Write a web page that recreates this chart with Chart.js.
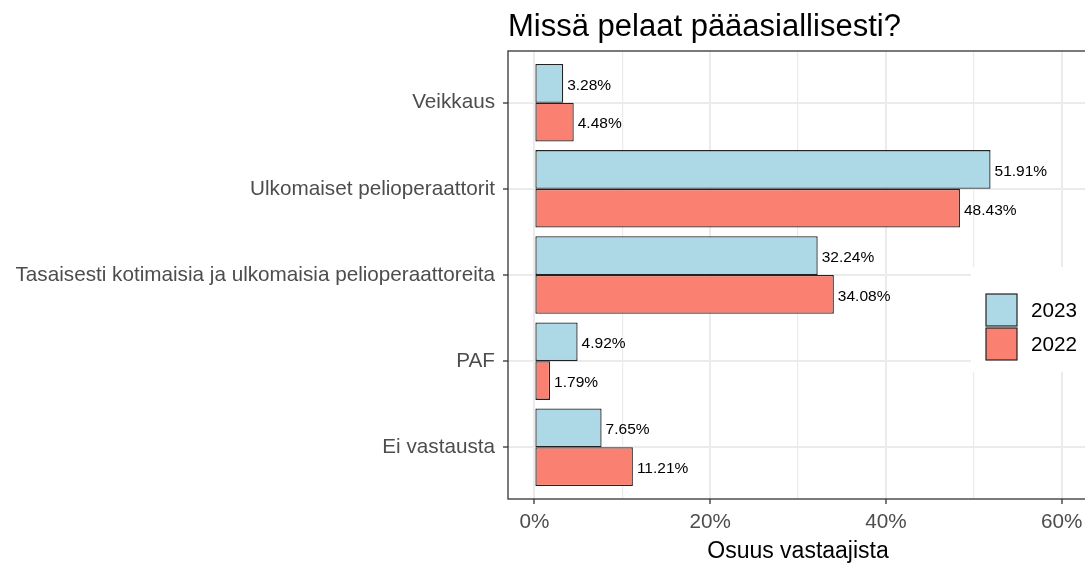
<!DOCTYPE html>
<html>
<head>
<meta charset="utf-8">
<script src="https://cdn.jsdelivr.net/npm/chart.js@4"></script>
<style>
  html, body { margin: 0; padding: 0; background: #fff; overflow: hidden; }
  canvas { display: block; }
</style>
</head>
<body>
<canvas id="chart" width="1092" height="563"></canvas>
<script>
var categories = ['Veikkaus', 'Ulkomaiset pelioperaattorit', 'Tasaisesti kotimaisia ja ulkomaisia pelioperaattoreita', 'PAF', 'Ei vastausta'];
var years = ['2023', '2022'];
var values2023 = [3.28, 51.91, 32.24, 4.92, 7.65];
var values2022 = [4.48, 48.43, 34.08, 1.79, 11.21];
var xTicks = [0, 10, 20, 30, 40, 50, 60];

var colors = ['#ADD8E6', '#FA8072'];
var FONT = '"Liberation Sans", Arial, sans-serif';

function toPoints(vals) {
    return vals.map(function (v, i) { return { x: v, y: i + 1 }; });
}

var panelPlugin = {
    id: 'panel',
    afterDatasetsDraw: function (chart) {
        var ctx = chart.ctx;
        ctx.save();
        ctx.font = '15.5px ' + FONT;
        ctx.fillStyle = '#000';
        ctx.textAlign = 'left';
        ctx.textBaseline = 'middle';
        chart.data.datasets.forEach(function (ds, di) {
            chart.getDatasetMeta(di).data.forEach(function (bar, i) {
                ctx.fillText(ds.data[i].x.toFixed(2) + '%', bar.x + 4, bar.y + 2);
            });
        });
        ctx.restore();
    },
    afterDraw: function (chart) {
        var ctx = chart.ctx, a = chart.chartArea;
        ctx.save();
        // panel border
        ctx.strokeStyle = '#333';
        ctx.lineWidth = 1.3;
        ctx.strokeRect(a.left, a.top, a.right - a.left, a.bottom - a.top);

        // title
        ctx.fillStyle = '#000';
        ctx.font = '31px ' + FONT;
        ctx.textAlign = 'left';
        ctx.textBaseline = 'alphabetic';
        ctx.fillText('Missä pelaat pääasiallisesti?', a.left, 36);

        // legend
        ctx.fillStyle = '#fff';
        ctx.fillRect(971, 267, 130, 105);
        ctx.font = '20.7px ' + FONT;
        ctx.textBaseline = 'middle';
        chart.data.datasets.forEach(function (ds, di) {
            var top = 294 + di * 34;
            ctx.fillStyle = ds.backgroundColor;
            ctx.fillRect(986, top, 31, 32);
            ctx.strokeStyle = '#222';
            ctx.lineWidth = 1.2;
            ctx.strokeRect(986, top, 31, 32);
            ctx.fillStyle = '#000';
            ctx.fillText(ds.label, 1031, top + 17);
        });
        ctx.restore();
    }
};

new Chart(document.getElementById('chart'), {
    type: 'bar',
    data: {
        datasets: [
            {
                label: years[0],
                data: toPoints(values2023),
                backgroundColor: colors[0],
                borderColor: '#222',
                borderWidth: 1.3,
                borderSkipped: false
            },
            {
                label: years[1],
                data: toPoints(values2022),
                backgroundColor: colors[1],
                borderColor: '#222',
                borderWidth: 1.3,
                borderSkipped: false
            }
        ]
    },
    options: {
        indexAxis: 'y',
        responsive: false,
        devicePixelRatio: 1,
        animation: false,
        layout: { padding: { top: 51, right: 4, left: 0, bottom: 0 } },
        datasets: { bar: { categoryPercentage: 0.9, barPercentage: 1 } },
        plugins: {
            legend: { display: false },
            title: { display: false },
            tooltip: { enabled: false }
        },
        scales: {
            x: {
                type: 'linear',
                min: -3,
                max: 63,
                afterBuildTicks: function (s) {
                    s.ticks = xTicks.map(function (v) { return { value: v }; });
                },
                afterFit: function (s) { s.height = 64; },
                border: { display: false },
                grid: {
                    color: '#EBEBEB',
                    lineWidth: function (c) { return c.tick && c.tick.value % 20 === 0 ? 2 : 1.2; },
                    tickColor: function (c) { return c.tick && c.tick.value % 20 === 0 ? '#333' : 'rgba(0,0,0,0)'; },
                    tickWidth: 1.3,
                    tickLength: 5
                },
                ticks: {
                    padding: 6,
                    color: '#4D4D4D',
                    font: { family: FONT, size: 20.7 },
                    maxRotation: 0,
                    callback: function (v) { return v % 20 === 0 ? v + '%' : ''; }
                },
                title: {
                    display: true,
                    text: 'Osuus vastaajista',
                    color: '#000',
                    font: { family: FONT, size: 23, lineHeight: 1 },
                    padding: { top: 0, bottom: 0 }
                }
            },
            y: {
                type: 'linear',
                reverse: true,
                offset: false,
                min: 0.4,
                max: 5.6,
                afterBuildTicks: function (s) {
                    s.ticks = categories.map(function (c, i) { return { value: i + 1 }; });
                },
                afterFit: function (s) { s.width = 508; },
                border: { display: false },
                grid: {
                    offset: false,
                    color: '#EBEBEB',
                    lineWidth: 2,
                    tickColor: '#333',
                    tickWidth: 1.3,
                    tickLength: 5
                },
                ticks: {
                    padding: 8,
                    color: '#4D4D4D',
                    font: { family: FONT, size: 20.7 },
                    callback: function (v) { return categories[v - 1]; }
                }
            }
        }
    },
    plugins: [panelPlugin]
});
</script>
</body>
</html>
